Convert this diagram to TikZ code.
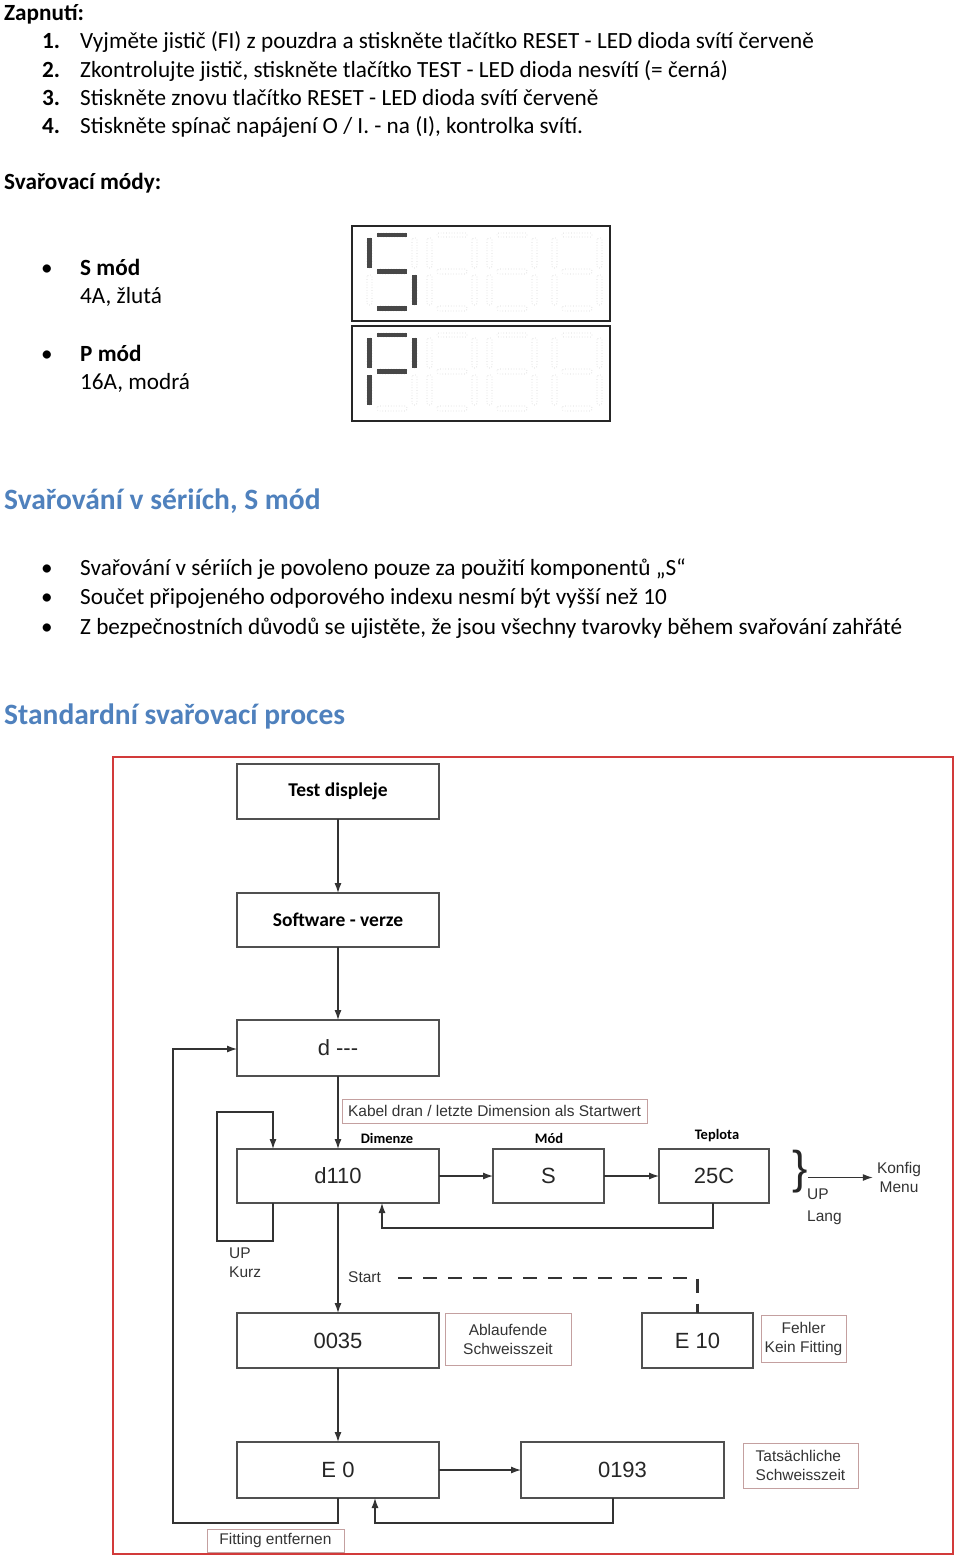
\documentclass[tikz,border=0pt]{standalone}
\usepackage{fontspec}
\setmainfont{Carlito}
\newfontfamily\arialf{Liberation Sans}
\usetikzlibrary{arrows.meta}
\definecolor{headblue}{HTML}{4F81BD}
\definecolor{framered}{HTML}{D23A3A}
\definecolor{linec}{HTML}{333333}
\definecolor{boxc}{HTML}{505050}
\definecolor{labc}{HTML}{C4A0A0}
\definecolor{segon}{HTML}{474747}
\definecolor{segoff}{HTML}{D4D4D4}
\begin{document}
\begin{tikzpicture}[x=1pt,y=-1pt,
  body/.style={anchor=base west, inner sep=0, font=\fontsize{23.2}{28}\selectfont},
  bbody/.style={anchor=base west, inner sep=0, font=\fontsize{23.2}{28}\selectfont\bfseries},
  bul/.style={anchor=base, inner sep=0, font=\fontsize{23.2}{28}\selectfont},
  head/.style={anchor=base west, inner sep=0, text=headblue, font=\fontsize{29.5}{34}\selectfont\bfseries},
  box/.style={draw=boxc, line width=1.1, inner sep=0, outer sep=0, text=black!85,
    font=\arialf\fontsize{22}{26}\selectfont},
  bbox/.style={box, text=black, font=\fontsize{19.5}{24}\selectfont\bfseries},
  lab/.style={draw=labc, line width=0.9, inner sep=0, align=center, text=black!80,
    font=\arialf\fontsize{15.5}{19}\selectfont},
  small/.style={inner sep=0, text=black!80, font=\arialf\fontsize{15.5}{19}\selectfont},
  blab/.style={inner sep=0, font=\fontsize{14.5}{17}\selectfont\bfseries},
  arr/.style={draw=linec, line width=1.2, -{Latex[length=10pt,width=7pt]}},
  ln/.style={draw=linec, line width=1.2},
  dline/.style={draw=linec, line width=2.2, dash pattern=on 14pt off 11pt},
  soff/.style={draw=segoff, line width=0.7, dotted, rounded corners=1.5},
  son/.style={fill=segon, draw=none}
]
\useasboundingbox (0,0) rectangle (960,1556);

% ---------- Text part ----------
\node[bbody] (zap) at (4,20) {Zapnutí:};
\node[bbody] (n1) at (42,48) {1.};
\node[body] (l1) at (80,48) {Vyjměte jistič (FI) z pouzdra a stiskněte tlačítko RESET - LED dioda svítí červeně};
\node[bbody] (n2) at (42,77) {2.};
\node[body] (l2) at (80,77) {Zkontrolujte jistič, stiskněte tlačítko TEST - LED dioda nesvítí (= černá)};
\node[bbody] (n3) at (42,105) {3.};
\node[body] (l3) at (80,105) {Stiskněte znovu tlačítko RESET - LED dioda svítí červeně};
\node[bbody] (n4) at (42,133) {4.};
\node[body] (l4) at (80,133) {Stiskněte spínač napájení O / I. - na (I), kontrolka svítí.};

\node[bbody] (modes) at (4,189) {Svařovací módy:};
\node[bul] (b1) at (47,275) {\textbullet};
\node[bbody] (sm) at (80,275) {S mód};
\node[body] (sm2) at (80,303) {4A, žlutá};
\node[bul] (b2) at (47,361) {\textbullet};
\node[bbody] (pm) at (80,361) {P mód};
\node[body] (pm2) at (80,389) {16A, modrá};

% seven-segment displays
\draw[draw=black!85, line width=1.8] (352,226) rectangle (610,321);
\draw[draw=black!85, line width=1.8] (352,326) rectangle (610,421);
\foreach \dx in {367,427,487,552} {
  \foreach \dy in {226,326} {
    \foreach \a/\b/\c/\d in {10/7/40/11, 45/12/50/42, 45/49/50/79, 10/80/40/85, 0/49/5/79, 0/12/5/42, 10/43/40/48} {
      \draw[soff] (\dx+\a,\dy+\b) rectangle (\dx+\c,\dy+\d);
    }
  }
}
% S
\foreach \a/\b/\c/\d in {10/7/40/11, 45/49/50/79, 10/80/40/85, 0/12/5/42, 10/43/40/48} {
  \fill[son] (367+\a,226+\b) rectangle (367+\c,226+\d);
}
% P
\foreach \a/\b/\c/\d in {10/7/40/11, 45/12/50/42, 0/49/5/79, 0/12/5/42, 10/43/40/48} {
  \fill[son] (367+\a,326+\b) rectangle (367+\c,326+\d);
}

\node[head] (h1) at (4,509) {Svařování v sériích, S mód};
\node[bul] (c1) at (47,575) {\textbullet};
\node[body] (t1) at (80,575) {Svařování v sériích je povoleno pouze za použití komponentů „S“};
\node[bul] (c2) at (47,604) {\textbullet};
\node[body] (t2) at (80,604) {Součet připojeného odporového indexu nesmí být vyšší než 10};
\node[bul] (c3) at (47,634) {\textbullet};
\node[body] (t3) at (80,634) {Z bezpečnostních důvodů se ujistěte, že jsou všechny tvarovky během svařování zahřáté};

\node[head] (h2) at (4,724) {Standardní svařovací proces};

% ---------- Flowchart ----------
\draw[draw=framered, line width=2] (113,757) rectangle (953,1554);

\node[bbox, minimum width=202, minimum height=55] (test) at (338,791.5) {Test displeje};
\node[bbox, minimum width=202, minimum height=54] (soft) at (338,920) {Software - verze};
\node[box, minimum width=202, minimum height=56] (dd) at (338,1048) {d -{}-{}-};
\node[box, minimum width=202, minimum height=54] (d110) at (338,1176) {d110};
\node[box, minimum width=111, minimum height=54] (smod) at (548.5,1176) {S};
\node[box, minimum width=110, minimum height=54] (temp) at (714,1176) {25C};
\node[box, minimum width=202, minimum height=55] (t35) at (338,1340.5) {0035};
\node[box, minimum width=111, minimum height=55] (e10) at (697.5,1340.5) {E 10};
\node[box, minimum width=202, minimum height=56] (e0) at (338,1470) {E 0};
\node[box, minimum width=203, minimum height=56] (t193) at (622.5,1470) {0193};

\node[lab, minimum width=305, minimum height=24] (kabel) at (494.5,1111) {Kabel dran / letzte Dimension als Startwert};
\node[blab] (ldim) at (387,1138) {Dimenze};
\node[blab] (lmod) at (549,1138) {Mód};
\node[blab] (ltep) at (717,1136) {Teplota};

\node[inner sep=0, text=black!85, font=\arialf\fontsize{46}{46}\selectfont] (brace) at (800,1172) {\}};
\node[small, align=center, inner sep=4] (konfig) at (899,1177.5) {Konfig\\Menu};
\node[small, align=left, anchor=base west, font=\arialf\fontsize{15.5}{22}\selectfont] (uplang) at (807,1221) {UP\\Lang};
\node[small, align=left, anchor=base west] (upkurz) at (229,1277) {UP\\Kurz};
\node[small, anchor=base west] (start) at (348,1282) {Start};

\node[lab, minimum width=126, minimum height=52] (ablauf) at (508,1339) {Ablaufende\\Schweisszeit};
\node[lab, minimum width=85, minimum height=47] (fehler) at (803.5,1338.5) {Fehler\\Kein Fitting};
\node[lab, minimum width=115, minimum height=45, align=left] (tats) at (800.5,1465.5) {Tatsächliche\\Schweisszeit};
\node[lab, minimum width=137, minimum height=23] (fit) at (275.5,1540.5) {Fitting entfernen};

% connectors
\draw[arr] (test.south) -- (soft.north);
\draw[arr] (soft.south) -- (dd.north);
\draw[arr] (dd.south) -- (d110.north);
\draw[arr] (d110.east) -- (smod.west);
\draw[arr] (smod.east) -- (temp.west);

\coordinate (f1) at (713,1228);
\coordinate (f2) at (382,1228);
\draw[arr] (temp.south -| f1) -- (f1) -- (f2) -- (d110.south -| f2);

\coordinate (k1) at (273,1241);
\coordinate (k2) at (217,1241);
\coordinate (k3) at (217,1112);
\coordinate (k4) at (273,1112);
\draw[arr] (d110.south -| k1) -- (k1) -- (k2) -- (k3) -- (k4) -- (d110.north -| k4);

\draw[arr] (brace.east |- konfig.west) -- (konfig.west);

\draw[arr] (d110.south) -- (t35.north);
\coordinate (ds) at (398,1278);
\coordinate (dc) at (697.5,1278);
\draw[dline] (ds) -- (dc) -- (e10.north);

\draw[arr] (t35.south) -- (e0.north);
\draw[arr] (e0.east) -- (t193.west);

\coordinate (g1) at (613,1523);
\coordinate (g2) at (375,1523);
\draw[arr] (t193.south -| g1) -- (g1) -- (g2) -- (e0.south -| g2);

\coordinate (h2) at (173,1523);
\coordinate (h3) at (173,1049);
\draw[arr] (e0.south) -- (e0.south |- h2) -- (h2) -- (h3) -- (dd.west |- h3);
\end{tikzpicture}
\end{document}
